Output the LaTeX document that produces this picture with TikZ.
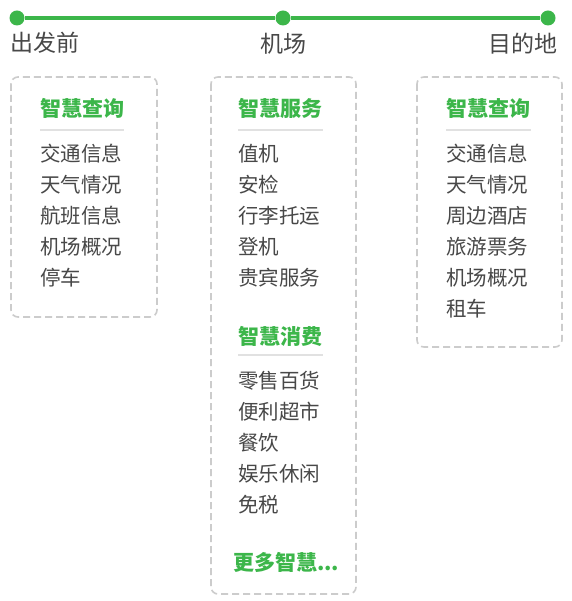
\documentclass[tikz,border=0pt]{standalone}
\usepackage{fontspec}
\usepackage{xcolor}
\usepackage{tikz}
\usetikzlibrary{positioning}
\newfontfamily\cjk{Noto Sans CJK SC}
\definecolor{stgreen}{RGB}{60,182,74}
\definecolor{sttext}{RGB}{72,72,72}
\definecolor{stdash}{RGB}{204,204,204}
\definecolor{strule}{RGB}{225,225,225}
\tikzset{
  stop/.style={circle,fill=stgreen,minimum size=15pt,inner sep=0pt},
  track/.style={draw=stgreen,line width=4pt},
  phase/.style={font=\cjk\fontsize{23}{23}\selectfont,text=sttext,inner sep=0pt},
  panel/.style={draw=stdash,line width=1.6pt,dash pattern=on 7pt off 4pt,rounded corners=7pt},
  heading/.style={anchor=west,inner sep=0pt,font=\cjk\bfseries\fontsize{21}{21}\selectfont,text=stgreen},
  item/.style={anchor=west,inner sep=0pt,font=\cjk\fontsize{20.5}{20.5}\selectfont,text=sttext},
  rule/.style={draw=strule,line width=1.6pt},
}
\begin{document}
\begin{tikzpicture}[x=1pt,y=-1pt]
  \useasboundingbox[fill=white] (0,0) rectangle (571,601);

  % timeline
  \node[stop] (dep) at (17,18) {};
  \node[stop] (apt) at (283,18) {};
  \node[stop] (dst) at (548,18) {};
  \draw[track] (dep) -- (apt);
  \draw[track] (apt) -- (dst);
  \node[phase,anchor=west] (depl) at (10,43) {出发前};
  \node[phase] (aptl) at (283,44) {机场};
  \node[phase,anchor=east] (dstl) at (558,44) {目的地};

  % before departure
  \draw[panel] (11,77) rectangle (157,317);
  \node[heading] (q1) at (40,108) {智慧查询};
  \draw[rule] (40,130) -- (124,130);
  \node[item] (q1a) at (40,154) {交通信息};
  \node[item] (q1b) at (40,185) {天气情况};
  \node[item] (q1c) at (40,216) {航班信息};
  \node[item] (q1d) at (40,247) {机场概况};
  \node[item] (q1e) at (40,278) {停车};

  % airport
  \draw[panel] (211,77) rectangle (356,594);
  \node[heading] (sv) at (238,108) {智慧服务};
  \draw[rule] (238,130) -- (323,130);
  \node[item] (sva) at (238,154) {值机};
  \node[item] (svb) at (238,185) {安检};
  \node[item] (svc) at (238,216) {行李托运};
  \node[item] (svd) at (238,247) {登机};
  \node[item] (sve) at (238,278) {贵宾服务};
  \node[heading] (cs) at (238,336) {智慧消费};
  \draw[rule] (238,355) -- (323,355);
  \node[item] (csa) at (238,381) {零售百货};
  \node[item] (csb) at (238,412) {便利超市};
  \node[item] (csc) at (238,443) {餐饮};
  \node[item] (csd) at (238,474) {娱乐休闲};
  \node[item] (cse) at (238,505) {免税};
  \node[heading] (more) at (233,562) {更多智慧...};

  % destination
  \draw[panel] (417,77) rectangle (562,347);
  \node[heading] (q2) at (446,108) {智慧查询};
  \draw[rule] (446,130) -- (531,130);
  \node[item] (q2a) at (446,154) {交通信息};
  \node[item] (q2b) at (446,185) {天气情况};
  \node[item] (q2c) at (446,216) {周边酒店};
  \node[item] (q2d) at (446,247) {旅游票务};
  \node[item] (q2e) at (446,278) {机场概况};
  \node[item] (q2f) at (446,309) {租车};
\end{tikzpicture}
\end{document}
